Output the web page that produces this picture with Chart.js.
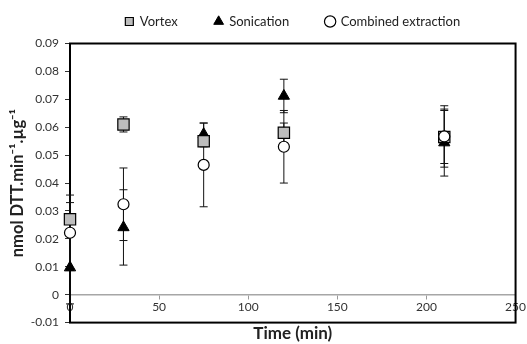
<!DOCTYPE html>
<html>
<head>
<meta charset="utf-8">
<script src="https://cdn.jsdelivr.net/npm/chart.js@4.4.1/dist/chart.umd.min.js"></script>
<style>
  body { margin: 0; background: #fff; }
  #wrap { width: 527px; height: 344px; }
</style>
</head>
<body>
<div id="wrap"><canvas id="chart"></canvas></div>
<script>
const times = [0, 30, 75, 120, 210];
const vortex = [0.027, 0.061, 0.055, 0.058, 0.0565];
const vortexErr = [0.006, 0.0027, 0.002, 0.0035, 0.0095];
const sonication = [0.0097, 0.0241, 0.0575, 0.0712, 0.0545];
const sonicationErr = [0.013, 0.0135, 0.004, 0.006, 0.012];
const combined = [0.0222, 0.0324, 0.0465, 0.053, 0.0567];
const combinedErr = [0.0135, 0.013, 0.015, 0.013, 0.011];

const pts = arr => arr.map((v, i) => ({ x: times[i], y: v }));

// box around the plot area
const frame = {
  id: 'frame',
  beforeDatasetsDraw(chart) {
    const { ctx, chartArea: a } = chart;
    ctx.save();
    ctx.strokeStyle = '#000';
    ctx.lineWidth = 2;
    ctx.strokeRect(a.left, a.top, a.right - a.left, a.bottom - a.top);
    ctx.restore();
  }
};

const errorBars = {
  id: 'errorBars',
  beforeDatasetsDraw(chart) {
    const { ctx, scales: { x, y } } = chart;
    ctx.save();
    ctx.strokeStyle = '#111';
    ctx.lineWidth = 1;
    chart.data.datasets.forEach(ds => {
      ds.data.forEach((p, i) => {
        const px = x.getPixelForValue(p.x);
        const hi = y.getPixelForValue(p.y + ds.errors[i]);
        const lo = y.getPixelForValue(p.y - ds.errors[i]);
        ctx.beginPath();
        ctx.moveTo(px, hi); ctx.lineTo(px, lo);
        ctx.moveTo(px - 4, hi); ctx.lineTo(px + 4, hi);
        ctx.moveTo(px - 4, lo); ctx.lineTo(px + 4, lo);
        ctx.stroke();
      });
    });
    ctx.restore();
  }
};

const ctx = document.getElementById('chart').getContext('2d');
new Chart(ctx, {
  type: 'scatter',
  data: {
    datasets: [{
      label: 'Vortex',
      data: pts(vortex),
      errors: vortexErr,
      pointStyle: 'rect',
      pointRadius: 8,
      backgroundColor: '#bdbdbd',
      borderColor: '#000',
      borderWidth: 1.2,
      order: 1,
      clip: false
    }, {
      label: 'Sonication',
      data: pts(sonication),
      errors: sonicationErr,
      pointStyle: 'triangle',
      pointRadius: 6.5,
      backgroundColor: '#000',
      borderColor: '#000',
      borderWidth: 1,
      order: 2,
      clip: false
    }, {
      label: 'Combined extraction',
      data: pts(combined),
      errors: combinedErr,
      pointStyle: 'circle',
      pointRadius: 5.5,
      backgroundColor: '#fff',
      borderColor: '#000',
      borderWidth: 1.2,
      order: 0,
      clip: false
    }]
  },
  options: {
    responsive: true,
    maintainAspectRatio: false,
    animation: false,
    layout: { padding: { left: 0, right: 8, top: -22, bottom: 0 } },
    plugins: {
      legend: {
        position: 'top',
        fullSize: false,
        labels: {
          usePointStyle: true,
          boxWidth: 8,
          boxHeight: 8,
          padding: 37,
          color: '#222',
          font: { family: 'Lato', size: 13 },
          sort: (a, b) => a.datasetIndex - b.datasetIndex
        }
      },
      title: {
        display: true,
        position: 'bottom',
        fullSize: false,
        text: 'Time (min)',
        color: '#222',
        font: { family: 'Lato', size: 17, weight: 'bold' },
        padding: { top: 1, bottom: 0 }
      },
      tooltip: { enabled: false }
    },
    scales: {
      x: {
        type: 'linear',
        position: { y: 0 },
        min: 0,
        max: 250,
        ticks: { stepSize: 50, color: '#333', padding: 1, font: { family: 'Lato', size: 12 } },
        grid: { drawOnChartArea: false, drawTicks: true, tickLength: 4, color: '#999' },
        border: { display: true, color: '#a6a6a6', width: 1.5 }
      },
      spacer: {
        type: 'linear',
        position: 'top',
        axis: 'x',
        display: true,
        ticks: { display: false },
        grid: { display: false },
        border: { display: false },
        afterFit: s => { s.height = 5.5; }
      },
      y: {
        min: -0.01,
        max: 0.09,
        ticks: {
          stepSize: 0.01,
          color: '#333',
          padding: 6,
          font: { family: 'Lato', size: 12 },
          callback: v => (Math.abs(v) < 1e-9 ? '0' : v.toFixed(2))
        },
        grid: { drawOnChartArea: false, drawTicks: true, tickLength: 5, color: '#333' },
        border: { display: false },
        title: {
          display: true,
          text: 'nmol DTT.min⁻¹.µg⁻¹',
          color: '#222',
          font: { family: 'Lato', size: 16.5, weight: 'bold' },
          padding: { top: 8, bottom: 0 }
        },
        afterFit: s => { s.width = 70; }
      }
    }
  },
  plugins: [frame, errorBars]
});
</script>
</body>
</html>
